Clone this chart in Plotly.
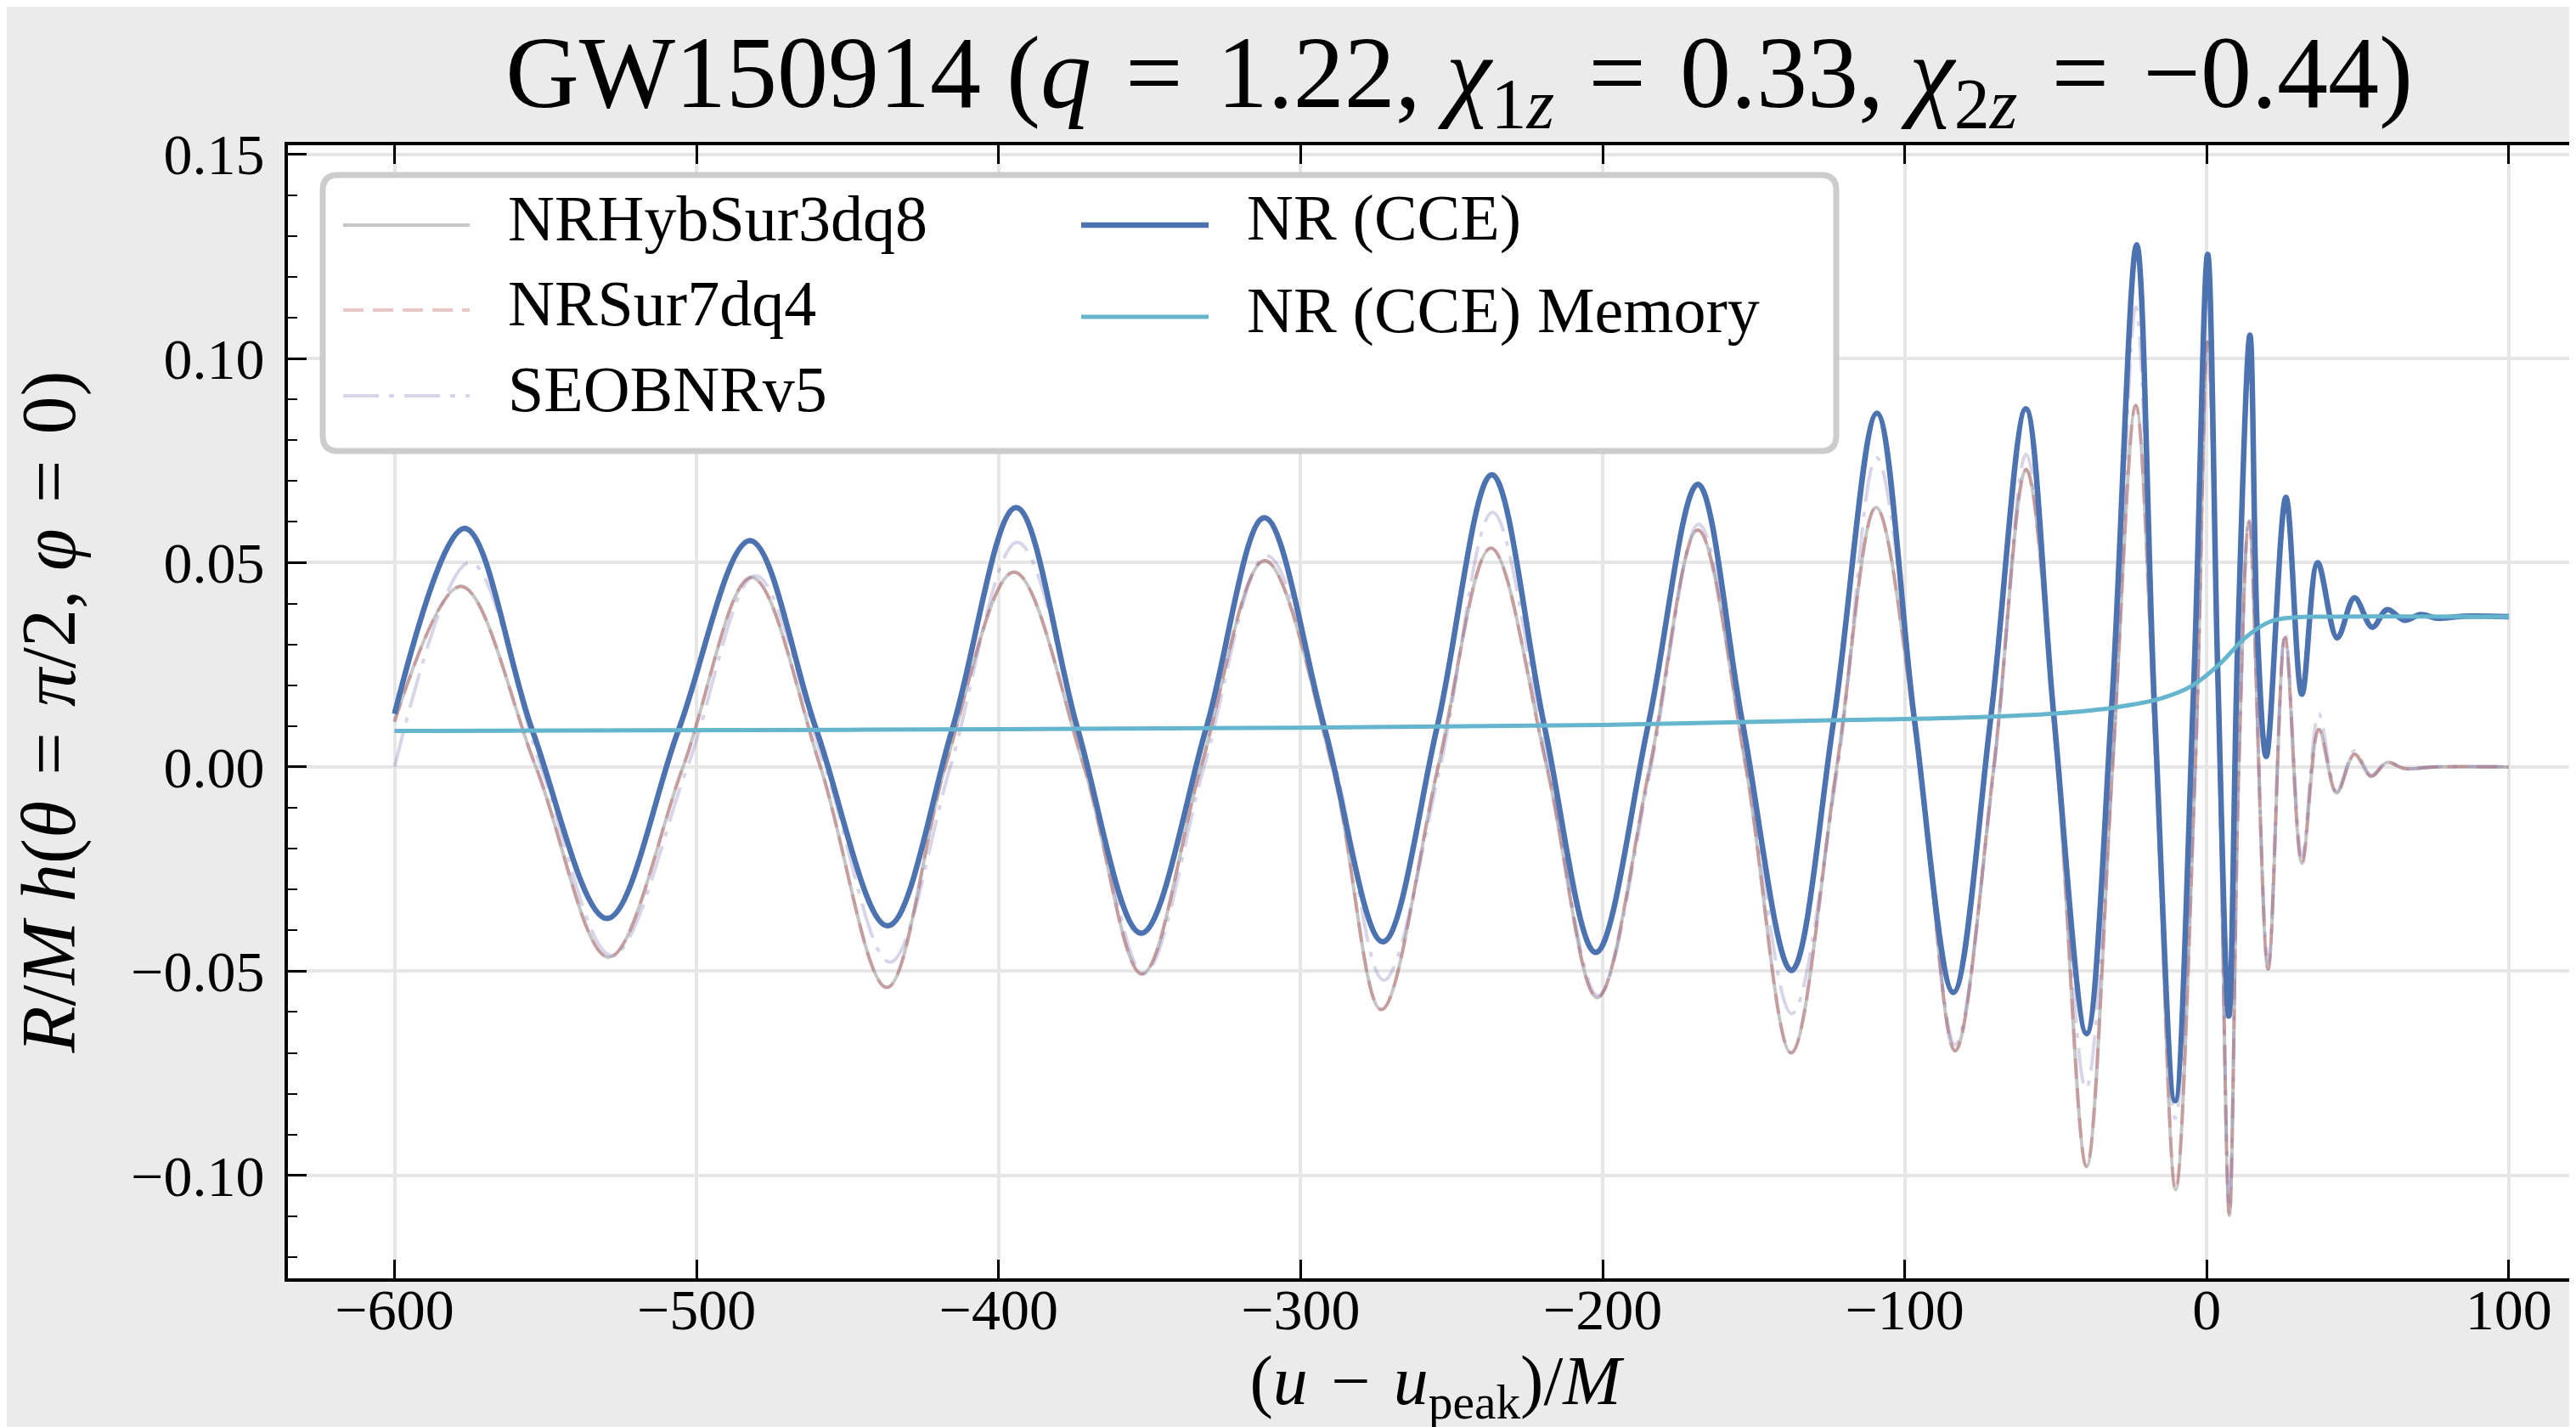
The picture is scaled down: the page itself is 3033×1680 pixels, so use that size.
import plotly.graph_objects as go

# ---------------- data ----------------
# NR (CCE) waveform: (u - u_peak)/M and R/M h
t_nr = [-600.0, -576.8, -554.3, -529.6, -506.0, -482.3, -460.3, -436.7, -415.4, -394.2,
        -373.8, -352.8, -331.3, -312.0, -292.1, -272.8, -254.8, -236.7, -219.3, -202.3,
        -184.9, -168.5, -153.7, -137.5, -123.5, -109.2, -96.8, -83.9, -71.5, -59.9,
        -50.7, -39.8, -31.5, -23.2, -17.4, -10.5, -4.3, 0.3, 3.6, 7.3,
        10.2, 14.3, 16.7, 19.7, 26.2, 31.5, 36.7, 43.2, 48.9, 54.8,
        59.7, 65.5, 70.8, 76.5, 85.0, 100.0]
h_nr = [0.0130, 0.0584, 0.0088, -0.0371, 0.0090, 0.0554, 0.0090, -0.0389, 0.0091, 0.0635,
        0.0092, -0.0407, 0.0094, 0.0610, 0.0096, -0.0428, 0.0098, 0.0715, 0.0100, -0.0454,
        0.0104, 0.0692, 0.0108, -0.0498, 0.0114, 0.0866, 0.0117, -0.0552, 0.0121, 0.0877,
        0.0131, -0.0653, 0.0146, 0.1278, 0.0165, -0.0817, 0.0203, 0.1255, 0.0243, -0.0610,
        0.0292, 0.1057, 0.0340, 0.0026, 0.0660, 0.0178, 0.0500, 0.0316, 0.0414, 0.0342,
        0.0385, 0.0359, 0.0373, 0.0364, 0.0369, 0.0368]

# NR (CCE) memory
t_mem = [-600.0, -450.0, -300.0, -200.0, -125.0, -80.0, -50.0, -30.0, -15.0, -5.0,
         4.0, 13.0, 21.0, 29.0, 40.0, 100.0]
h_mem = [0.0088, 0.0091, 0.0096, 0.0103, 0.0114, 0.0121, 0.0131, 0.0146, 0.0168, 0.0198,
         0.0250, 0.0318, 0.0356, 0.0366, 0.0368, 0.0368]

# NRHybSur3dq8
t_hyb = [-600.0, -578.0, -553.2, -529.1, -504.5, -481.8, -459.0, -437.0, -417.7, -394.9,
         -371.7, -352.5, -333.0, -311.9, -289.5, -273.3, -254.5, -237.0, -218.5, -201.8,
         -184.4, -168.5, -152.6, -137.6, -122.5, -109.5, -95.0, -83.3, -70.5, -59.8,
         -49.5, -39.8, -31.2, -23.5, -16.8, -10.3, -3.8, 0.3, 4.2, 7.5,
         10.6, 14.0, 20.3, 25.9, 31.5, 37.1, 43.0, 48.9, 54.4, 59.7,
         65.5, 75.0, 100.0]
h_hyb = [0.0112, 0.0442, 0.0, -0.0466, 0.0, 0.0464, 0.0, -0.0540, 0.0, 0.0477,
         0.0, -0.0507, 0.0, 0.0505, 0.0, -0.0594, 0.0, 0.0536, 0.0, -0.0565,
         0.0, 0.0580, 0.0, -0.0700, 0.0, 0.0635, 0.0, -0.0695, 0.0, 0.0728,
         0.0, -0.0978, 0.0, 0.0885, 0.0, -0.1035, 0.0, 0.1040, 0.0, -0.1098,
         0.0, 0.0600, -0.0495, 0.0316, -0.0236, 0.0092, -0.0064, 0.0031, -0.0023, 0.0011,
         -0.0004, 0.0, 0.0]

# NRSur7dq4 (lies on top of NRHybSur3dq8 in the picture)
t_sur = [-600.0, -578.0, -553.2, -529.1, -504.5, -481.8, -459.0, -437.0, -417.7, -394.9,
         -371.7, -352.5, -333.0, -311.9, -289.5, -273.3, -254.5, -237.0, -218.5, -201.8,
         -184.4, -168.5, -152.6, -137.6, -122.5, -109.5, -95.0, -83.3, -70.5, -59.8,
         -49.5, -39.8, -31.2, -23.5, -16.8, -10.3, -3.8, 0.3, 4.2, 7.5,
         10.6, 14.0, 20.3, 25.9, 31.5, 37.1, 43.0, 48.9, 54.4, 59.7,
         65.5, 75.0, 100.0]
h_sur = [0.0110, 0.0442, 0.0, -0.0466, 0.0, 0.0464, 0.0, -0.0540, 0.0, 0.0477,
         0.0, -0.0507, 0.0, 0.0505, 0.0, -0.0594, 0.0, 0.0536, 0.0, -0.0565,
         0.0, 0.0580, 0.0, -0.0700, 0.0, 0.0635, 0.0, -0.0695, 0.0, 0.0728,
         0.0, -0.0978, 0.0, 0.0885, 0.0, -0.1035, 0.0, 0.1040, 0.0, -0.1098,
         0.0, 0.0600, -0.0495, 0.0316, -0.0236, 0.0092, -0.0064, 0.0031, -0.0023, 0.0011,
         -0.0004, 0.0, 0.0]

# SEOBNRv5
t_eob = [-600.0, -575.0, -551.5, -528.0, -503.0, -480.5, -457.5, -436.0, -416.0, -393.8,
         -370.5, -351.8, -332.0, -311.2, -288.5, -272.5, -253.8, -236.5, -218.0, -201.5,
         -184.0, -168.2, -152.2, -137.4, -122.2, -109.3, -94.8, -83.3, -70.4, -59.8,
         -49.4, -40.0, -31.2, -23.5, -16.8, -10.4, -3.8, 0.3, 4.2, 7.5,
         10.6, 14.0, 20.3, 25.9, 31.5, 37.1, 43.0, 48.9, 54.4, 59.7,
         65.5, 75.0, 100.0]
h_eob = [0.0000, 0.0501, 0.0, -0.0462, 0.0, 0.0468, 0.0, -0.0478, 0.0, 0.0550,
         0.0, -0.0505, 0.0, 0.0517, 0.0, -0.0522, 0.0, 0.0623, 0.0, -0.0560,
         0.0, 0.0594, 0.0, -0.0604, 0.0, 0.0757, 0.0, -0.0680, 0.0, 0.0765,
         0.0, -0.0788, 0.0, 0.1126, 0.0, -0.0860, 0.0, 0.1040, 0.0, -0.1080,
         0.0, 0.0610, -0.0480, 0.0330, -0.0220, 0.0130, -0.0060, 0.0040, -0.0020, 0.0012,
         -0.0004, 0.0, 0.0]

x_ticks = [-600, -500, -400, -300, -200, -100, 0, 100]
y_ticks = [-0.10, -0.05, 0.00, 0.05, 0.10, 0.15]

SP = "\u2004"  # slightly wider (math-like) space around relations
TITLE = (f"GW150914 (<i>q</i>{SP}={SP}1.22, <i>χ</i><sub>1<i>z</i></sub>{SP}={SP}0.33, "
         f"<i>χ</i><sub>2<i>z</i></sub>{SP}={SP}−0.44)")
XLABEL = f"(<i>u</i>{SP}−{SP}<i>u</i><sub>peak</sub>)/<i>M</i>"
YLABEL = f"<i>R</i>/<i>M</i> <i>h</i>(<i>θ</i>{SP}={SP}<i>π</i>/2, <i>φ</i>{SP}={SP}0)"

# ---------------- styling ----------------
W, H = 3033, 1680
ML, MR, MT, MB = 331, 0, 163, 183
FONT = "Liberation Serif, DejaVu Serif, serif"

series = [
    dict(name="NRHybSur3dq8", x=t_hyb, y=h_hyb, color="rgba(140,140,140,0.5)", dash="solid", width=4),
    dict(name="NRSur7dq4", x=t_sur, y=h_sur, color="rgba(196,78,82,0.32)", dash="24px,11px", width=4),
    dict(name="SEOBNRv5", x=t_eob, y=h_eob, color="rgba(129,114,178,0.3)", dash="42px,12px,6px,12px", width=4),
    dict(name="NR (CCE)", x=t_nr, y=h_nr, color="#4C72B0", dash="solid", width=6.5),
    dict(name="NR (CCE) Memory", x=t_mem, y=h_mem, color="#64B5CD", dash="solid", width=5),
]

fig = go.Figure()
for s in series:
    fig.add_trace(go.Scatter(
        x=s["x"], y=s["y"], name=s["name"], mode="lines",
        line=dict(color=s["color"], width=s["width"], dash=s["dash"], shape="spline", smoothing=1.0),
        showlegend=False, hoverinfo="skip"))

PW = W - ML - MR
PH = H - MT - MB


def px_x(px):
    return (px - ML) / PW


def px_y(py):
    return (H - MB - py) / PH


# legend frame (rounded box)
bx0, bx1, by0, by1 = 372, 2154, 198, 523
rx, ry = 18, 18
x0, x1 = px_x(bx0), px_x(bx1)
y0, y1 = px_y(by1), px_y(by0)
dxr, dyr = rx / PW, ry / PH
path = (f"M {x0+dxr},{y1} L {x1-dxr},{y1} Q {x1},{y1} {x1},{y1-dyr} "
        f"L {x1},{y0+dyr} Q {x1},{y0} {x1-dxr},{y0} L {x0+dxr},{y0} "
        f"Q {x0},{y0} {x0},{y0+dyr} L {x0},{y1-dyr} Q {x0},{y1} {x0+dxr},{y1} Z")
shapes = [dict(type="path", path=path, xref="paper", yref="paper",
               fillcolor="white", line=dict(color="#cccccc", width=7), layer="above")]
annotations = []

# legend entries: (sample x0, sample x1, text x, row y) in pixels
legend_pos = [
    (396, 545, 588, 257),
    (396, 545, 588, 357),
    (396, 545, 588, 458),
    (1265, 1415, 1458, 257),
    (1265, 1415, 1458, 365),
]
for s, (sx0, sx1, tx, ry_) in zip(series, legend_pos):
    shapes.append(dict(type="line", xref="paper", yref="paper",
                       x0=px_x(sx0), x1=px_x(sx1), y0=px_y(ry_), y1=px_y(ry_),
                       line=dict(color=s["color"], width=s["width"], dash=s["dash"]),
                       layer="above"))
    annotations.append(dict(text=s["name"], xref="paper", yref="paper",
                            x=px_x(tx), y=px_y(ry_ - 8), xanchor="left", yanchor="middle",
                            showarrow=False, font=dict(family=FONT, size=76, color="black")))

fig.update_layout(
    width=W, height=H,
    margin=dict(l=ML, r=MR, t=MT, b=MB, pad=0),
    paper_bgcolor="#ebebeb", plot_bgcolor="white",
    font=dict(family=FONT, color="black", size=68),
    showlegend=False,
    title=dict(text=TITLE, x=1710 / W, xref="container", xanchor="center",
               y=1 - 76 / H, yref="container", yanchor="middle",
               font=dict(family=FONT, size=120, color="black")),
    shapes=shapes, annotations=annotations,
)

fig.update_xaxes(
    range=[-635.3, 124.5], tickvals=x_ticks,
    showline=True, linecolor="black", linewidth=4, mirror="ticks",
    ticks="inside", ticklen=22, tickwidth=3, tickcolor="black",
    showgrid=True, gridcolor="#e6e6e6", gridwidth=4, zeroline=False,
    tickfont=dict(family=FONT, size=68, color="black"), ticklabelstandoff=-26,
    title=dict(text=XLABEL, font=dict(family=FONT, size=82, color="black"), standoff=0),
)
fig.update_yaxes(
    range=[-0.1252, 0.1522], tickvals=y_ticks, tickformat=".2f",
    showline=True, linecolor="black", linewidth=4,
    ticks="inside", ticklen=22, tickwidth=3, tickcolor="black",
    minor=dict(dtick=0.01, tick0=0, ticks="inside", ticklen=11, tickwidth=2, tickcolor="black", showgrid=False),
    showgrid=True, gridcolor="#e6e6e6", gridwidth=4, zeroline=False,
    tickfont=dict(family=FONT, size=68, color="black"), ticklabelstandoff=10,
    title=dict(text=YLABEL, font=dict(family=FONT, size=90, color="black"), standoff=38),
)

fig.write_html("out.html")
